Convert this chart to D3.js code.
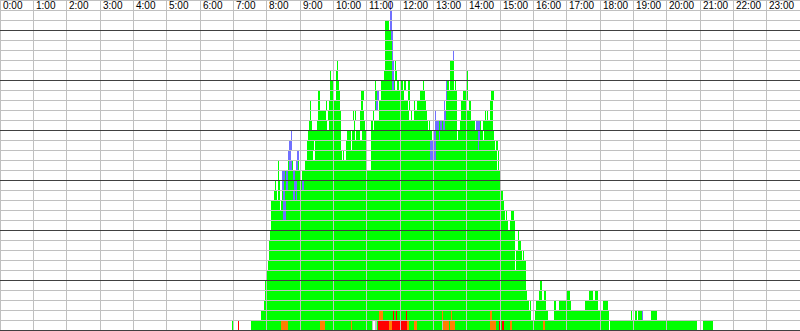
<!DOCTYPE html>
<html>
<head>
<meta charset="utf-8">
<script src="https://cdn.jsdelivr.net/npm/d3@7"></script>
<style>
  html, body { margin: 0; padding: 0; background: #fff; }
  svg { display: block; }
</style>
</head>
<body>
<div id="chart"></div>
<script>
// hour labels along the top
const hourLabels = d3.range(24).map(h => h + ":00");

// sessions per lane: [lane, fromHour, toHour]
const greenRuns = [
  [0, 6.96, 7.005], [0, 7.53, 11.15], [0, 11.30, 18.27], [0, 18.30, 20.91], [0, 21.09, 21.39],
  [1, 7.83, 15.92], [1, 16.05, 16.44], [1, 16.62, 18.27], [1, 18.93, 18.96], [1, 19.05, 19.11], [1, 19.14, 19.26], [1, 19.53, 19.71],
  [2, 7.92, 15.87], [2, 15.90, 15.94], [2, 16.08, 16.38], [2, 16.62, 16.68], [2, 16.77, 17.13], [2, 17.55, 17.94], [2, 18.09, 18.24],
  [3, 7.95, 15.81], [3, 16.17, 16.26], [3, 16.32, 16.38], [3, 17.01, 17.10], [3, 17.67, 17.79], [3, 17.85, 17.94],
  [4, 7.96, 15.78], [4, 16.20, 16.26],
  [5, 8.01, 15.78],
  [6, 8.03, 15.45], [6, 15.48, 15.78],
  [7, 8.06, 15.45], [7, 15.48, 15.66], [7, 15.69, 15.71],
  [8, 8.07, 15.45], [8, 15.54, 15.63],
  [9, 8.10, 15.45], [9, 15.54, 15.57],
  [10, 8.12, 15.24], [10, 15.30, 15.45],
  [11, 8.13, 15.15], [11, 15.18, 15.21], [11, 15.33, 15.42],
  [12, 8.13, 8.40], [12, 8.43, 15.12],
  [13, 8.22, 8.31], [13, 8.34, 8.40], [13, 8.46, 15.09],
  [14, 8.25, 8.28], [14, 8.34, 8.40], [14, 8.46, 9.06], [14, 9.12, 15.00],
  [15, 8.34, 8.37], [15, 8.46, 9.03], [15, 9.06, 15.00],
  [16, 8.34, 8.37], [16, 8.64, 8.79], [16, 8.94, 8.97], [16, 9.15, 11.00], [16, 11.14, 14.91], [16, 14.94, 14.97],
  [17, 9.21, 9.39], [17, 9.45, 10.26], [17, 10.29, 10.32], [17, 10.38, 11.00], [17, 11.14, 14.91], [17, 14.94, 14.97],
  [18, 9.21, 9.42], [18, 9.45, 10.23], [18, 10.38, 10.53], [18, 10.56, 10.98], [18, 11.14, 14.85], [18, 14.88, 14.925],
  [19, 9.24, 10.23], [19, 10.41, 10.53], [19, 10.56, 10.65], [19, 10.68, 10.80], [19, 10.86, 10.98], [19, 11.13, 12.96],
  [19, 13.02, 13.71], [19, 13.74, 14.49], [19, 14.52, 14.82],
  [20, 9.27, 9.36], [20, 9.51, 9.81], [20, 9.87, 10.23], [20, 10.62, 10.65], [20, 10.80, 10.95], [20, 11.13, 11.19],
  [20, 11.22, 12.84], [20, 12.87, 12.90], [20, 13.05, 13.71], [20, 13.80, 14.25], [20, 14.28, 14.43], [20, 14.49, 14.79],
  [21, 9.30, 9.33], [21, 9.54, 9.78], [21, 9.84, 10.23], [21, 10.59, 10.62], [21, 10.65, 10.68], [21, 10.80, 10.92],
  [21, 11.19, 11.22], [21, 11.37, 12.27], [21, 12.33, 12.36], [21, 12.42, 12.81], [21, 13.38, 13.71], [21, 13.83, 14.13],
  [21, 14.55, 14.58], [21, 14.61, 14.64], [21, 14.70, 14.79],
  [22, 9.30, 9.33], [22, 9.54, 9.60], [22, 9.78, 9.81], [22, 9.87, 10.20], [22, 10.83, 10.89], [22, 11.25, 11.28],
  [22, 11.37, 12.24], [22, 12.27, 12.30], [22, 12.42, 12.45], [22, 12.51, 12.78], [22, 13.38, 13.71], [22, 13.83, 13.98],
  [22, 14.07, 14.13], [22, 14.70, 14.79],
  [23, 9.54, 9.60], [23, 9.90, 10.02], [23, 10.08, 10.20], [23, 10.83, 10.92], [23, 11.25, 11.31], [23, 11.43, 12.00],
  [23, 12.03, 12.12], [23, 12.24, 12.30], [23, 12.60, 12.75], [23, 13.41, 13.71], [23, 13.89, 13.98], [23, 14.01, 14.04],
  [23, 14.73, 14.82],
  [24, 9.90, 9.99], [24, 10.08, 10.17], [24, 11.25, 11.28], [24, 11.43, 11.76], [24, 11.82, 11.85], [24, 11.91, 11.97],
  [24, 12.03, 12.09], [24, 12.12, 12.18], [24, 12.24, 12.30], [24, 12.69, 12.72], [24, 13.41, 13.47], [24, 13.50, 13.62],
  [24, 13.65, 13.68], [24, 14.00, 14.03],
  [25, 9.90, 9.93], [25, 10.08, 10.14], [25, 11.52, 11.76], [25, 11.85, 11.91], [25, 13.50, 13.62], [25, 14.00, 14.03],
  [26, 10.11, 10.14], [26, 11.55, 11.76], [26, 11.85, 11.88], [26, 13.50, 13.62],
  [27, 11.55, 11.76],
  [28, 11.55, 11.76],
  [29, 11.55, 11.73],
  [30, 11.55, 11.67]
];

const blueRuns = [
  [1, 19.26, 19.29],
  [11, 8.50, 8.57], [12, 8.50, 8.57],
  [13, 8.49, 8.55], [13, 8.79, 8.85], [13, 8.88, 8.91],
  [14, 8.46, 8.52], [14, 8.58, 8.64], [14, 8.82, 8.91], [14, 9.06, 9.12],
  [15, 8.46, 8.55], [15, 8.58, 8.64], [15, 8.79, 8.85], [15, 9.00, 9.03],
  [16, 8.67, 8.76], [16, 8.88, 8.94],
  [17, 8.64, 8.73], [17, 8.92, 8.96], [17, 12.90, 12.99], [17, 13.02, 13.08],
  [18, 8.67, 8.76], [18, 12.90, 12.99], [18, 13.02, 13.08], [18, 14.34, 14.37],
  [19, 8.73, 8.76], [19, 13.02, 13.07], [19, 13.17, 13.20], [19, 14.34, 14.40],
  [20, 13.05, 13.17], [20, 13.20, 13.26], [20, 13.29, 13.35], [20, 14.28, 14.40],
  [21, 13.05, 13.08], [21, 13.32, 13.38],
  [22, 11.28, 11.34], [22, 13.32, 13.35],
  [23, 11.31, 11.37], [23, 13.38, 13.41],
  [24, 11.76, 11.82], [24, 13.38, 13.41],
  [25, 11.76, 11.82],
  [26, 11.76, 11.82],
  [27, 11.76, 11.79], [27, 13.59, 13.62],
  [28, 11.76, 11.79],
  [29, 11.73, 11.79],
  [30, 11.70, 11.76],
  [31, 11.70, 11.76],
  [32, 11.70, 11.74]
];

const orangeRuns = [
  [0, 8.43, 8.63], [0, 9.60, 9.76], [0, 10.53, 10.56], [0, 11.67, 11.75], [0, 12.22, 12.28], [0, 12.43, 12.50],
  [0, 13.29, 13.47], [0, 13.50, 13.65], [0, 14.70, 14.88], [0, 15.30, 15.345], [0, 16.29, 16.35],
  [1, 11.38, 11.48], [1, 13.25, 13.30], [1, 13.53, 13.55], [1, 14.70, 14.75]
];

const redRuns = [
  [0, 7.14, 7.18], [0, 11.34, 11.67], [0, 11.75, 12.00], [0, 12.00, 12.22], [0, 14.97, 15.00], [0, 15.06, 15.12],
  [1, 11.80, 11.83], [1, 11.87, 11.90], [1, 12.17, 12.20]
];

const grayRuns = [
  [0, 11.15, 11.20], [0, 11.25, 11.30], [0, 13.25, 13.29]
];

const width = 800, height = 331;
const laneCount = 33;

const svg = d3.select("#chart").append("svg")
  .attr("width", width)
  .attr("height", height)
  .style("font-family", "'Liberation Sans', Arial, sans-serif");

const x = d3.scaleLinear().domain([0, 24]).range([0, 800]);
const y = d3.scaleLinear().domain([0, laneCount]).range([330, 0]);

const series = [
  { runs: greenRuns, color: "#00ff00" },
  { runs: grayRuns, color: "#c0c0c0" },
  { runs: orangeRuns, color: "#ff8000" },
  { runs: redRuns, color: "#ff0000" },
  { runs: blueRuns, color: "#7070ff" }
];

const bars = svg.append("g").attr("shape-rendering", "crispEdges");
series.forEach(s => {
  bars.append("g").selectAll("rect")
    .data(s.runs)
    .enter()
    .append("rect")
    .attr("x", d => Math.round(x(d[1])))
    .attr("y", d => y(d[0] + 1))
    .attr("width", d => Math.max(1, Math.round(x(d[2])) - Math.round(x(d[1]))))
    .attr("height", y(0) - y(1))
    .attr("fill", s.color);
});

// grid on top of the bars
const grid = svg.append("g").attr("shape-rendering", "crispEdges");
grid.selectAll("line.v")
  .data(d3.range(24))
  .enter()
  .append("line")
  .attr("x1", h => Math.floor(x(h)) + 0.5)
  .attr("x2", h => Math.floor(x(h)) + 0.5)
  .attr("y1", 0)
  .attr("y2", height)
  .attr("stroke", "#c0c0c0");

grid.selectAll("line.h")
  .data(d3.range(0, laneCount + 1))
  .enter()
  .append("line")
  .attr("x1", 0)
  .attr("x2", width)
  .attr("y1", k => y(k) + 0.5)
  .attr("y2", k => y(k) + 0.5)
  .attr("stroke", k => k % 5 === 0 ? "#404040" : "#c0c0c0");

svg.append("g").selectAll("text")
  .data(hourLabels)
  .enter()
  .append("text")
  .attr("x", (d, i) => Math.floor(x(i)) + 3)
  .attr("y", 9)
  .attr("font-size", "10px")
  .attr("fill", "#000")
  .text(d => d);
</script>
</body>
</html>
